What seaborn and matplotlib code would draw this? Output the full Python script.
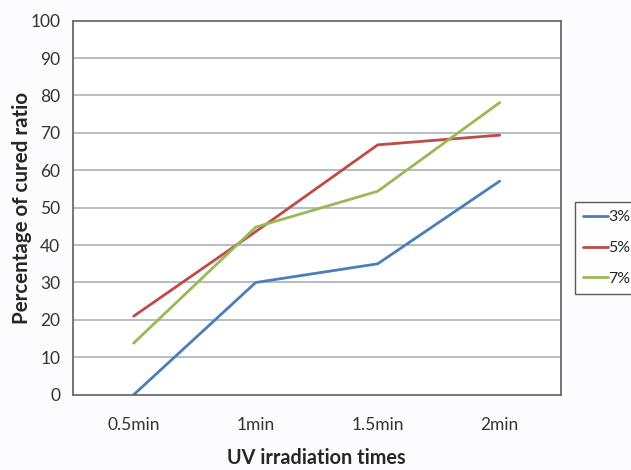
import matplotlib
matplotlib.use("Agg")
import matplotlib.pyplot as plt
import seaborn as sns
import pandas as pd

categories = ["0.5min", "1min", "1.5min", "2min"]
s3 = [0.0, 30.0, 35.0, 57.1]
s5 = [21.0, 43.6, 66.8, 69.4]
s7 = [13.8, 44.8, 54.4, 78.1]
series_names = ["3%", "5%", "7%"]
colors = ["#4a7ebb", "#be4b48", "#98b954"]
y_ticks = list(range(0, 101, 10))

sns.set_theme(style="white")
plt.rcParams["font.family"] = ["Lato", "DejaVu Sans"]

rows = []
for name, vals in zip(series_names, [s3, s5, s7]):
    for c, v in zip(categories, vals):
        rows.append({"time": c, "value": v, "series": name})
df = pd.DataFrame(rows)

fig = plt.figure(figsize=(6.31, 4.70), dpi=100, facecolor="#fcfcfe")
ax = fig.add_axes([0.1152, 0.1602, 0.7734, 0.7958])
ax.set_facecolor("white")

sns.lineplot(data=df, x="time", y="value", hue="series", palette=colors,
             linewidth=2, ax=ax, sort=False, legend=True)

ax.set_xlim(-0.5, 3.5)
ax.set_ylim(0, 100)
ax.set_yticks(y_ticks)
for t in y_ticks[1:-1]:
    ax.axhline(t, color="#a9b3ba", linewidth=1.2, zorder=0)
for s in ax.spines.values():
    s.set_color("#6a6a6a")
    s.set_linewidth(1.3)
ax.tick_params(axis="both", length=0, labelsize=12.5, colors="#333333")
ax.tick_params(axis="y", pad=9)
ax.tick_params(axis="x", pad=16)
ax.set_xlabel("UV irradiation times", fontsize=14.3, fontweight="bold", labelpad=11)
ax.set_ylabel("Percentage of cured ratio", fontsize=14.8, fontweight="bold", labelpad=-1)

handles, labels = ax.get_legend_handles_labels()
ax.legend(handles, labels, loc="upper left", bbox_to_anchor=(575/631, 1 - 202/470),
          bbox_transform=fig.transFigure, frameon=True, fancybox=False,
          edgecolor="#333333", fontsize=11.5, handlelength=1.55, handletextpad=0.05,
          labelspacing=1.05, borderpad=0.5, borderaxespad=0)

fig.savefig("out.png", dpi=100, facecolor=fig.get_facecolor())
